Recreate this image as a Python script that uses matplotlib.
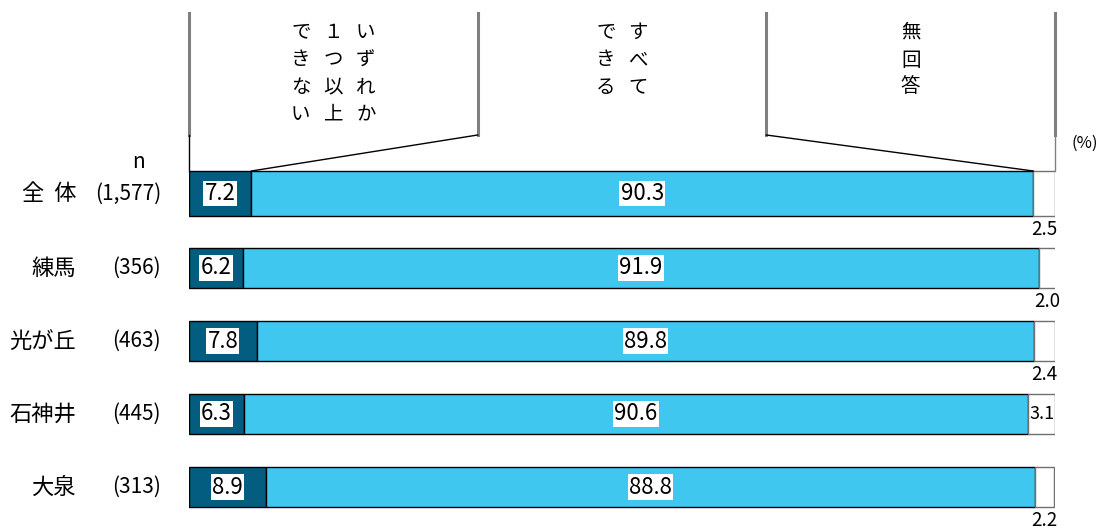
import matplotlib
matplotlib.use('Agg')
import matplotlib.pyplot as plt

plt.rcParams['font.family'] = ['Noto Sans CJK JP', 'DejaVu Sans']

areas = ['全  体', '練馬', '光が丘', '石神井', '大泉']
counts = ['(1,577)', '(356)', '(463)', '(445)', '(313)']
cannot = [7.2, 6.2, 7.8, 6.3, 8.9]      # いずれか1つ以上できない
can_all = [90.3, 91.9, 89.8, 90.6, 88.8]  # すべてできる
no_ans = [2.5, 2.0, 2.4, 3.1, 2.2]      # 無回答
headers = [['いずれか', '１つ以上', 'できない'], ['すべて', 'できる'], ['無回答']]

dark = '#035d80'
light = '#3fc7f0'

W, H = 1107, 531
fig = plt.figure(figsize=(W / 100, H / 100), dpi=100)
x0, x1 = 189, 1055
ax = fig.add_axes([x0 / W, 0, (x1 - x0) / W, 1])
ax.set_xlim(0, 100)
ax.set_ylim(H, 0)
ax.axis('off')

def px(x):
    # figure pixel -> percent axis
    return (x - x0) / (x1 - x0) * 100

# row centres / heights in pixels (layout only)
ys = [193.5, 268, 341, 414, 487]
hs = [45, 40, 40, 40, 40]

for i in range(len(areas)):
    y, h = ys[i], hs[i]
    ax.barh(y, cannot[i], height=h, color=dark, edgecolor='black', lw=1)
    ax.barh(y, can_all[i], left=cannot[i], height=h, color=light, edgecolor='black', lw=1)
    ax.barh(y, no_ans[i], left=cannot[i] + can_all[i], height=h, color='white',
            edgecolor='#707070', lw=1)
    box = dict(facecolor='white', edgecolor='none', pad=1.0)
    ax.text(cannot[i] / 2, y, f'{cannot[i]:.1f}', ha='center', va='center',
            fontsize=16, bbox=box)
    ax.text(cannot[i] + can_all[i] / 2, y, f'{can_all[i]:.1f}', ha='center',
            va='center', fontsize=16, bbox=box)
    xc = cannot[i] + can_all[i] + no_ans[i] / 2
    if no_ans[i] >= 3:
        ax.text(xc, y, f'{no_ans[i]:.1f}', ha='center', va='center', fontsize=13)
    else:
        ax.text(xc, y + h / 2 + 3, f'{no_ans[i]:.1f}', ha='center', va='top', fontsize=13.5)
    ax.text(px(76), y, areas[i], ha='right', va='center', fontsize=16, clip_on=False)
    ax.text(px(161), y, counts[i], ha='right', va='center', fontsize=15, clip_on=False)

ax.text(px(138), 162, 'n', ha='center', va='center', fontsize=15, clip_on=False)
ax.text(px(1085), 143, '(%)', ha='center', va='center', fontsize=12, clip_on=False)

# header frame
gray = '#808080'
top, mid = 13, 135
bar_top = ys[0] - hs[0] / 2
for xv in [0, 100 / 3, 200 / 3, 100]:
    ax.plot([xv, xv], [top, mid], color=gray, lw=2.2, clip_on=False)
ax.plot([0, 0], [mid, bar_top], color='black', lw=1, clip_on=False)
ax.plot([100, 100], [mid, bar_top], color=gray, lw=1, clip_on=False)
ax.plot([100 / 3, cannot[0]], [mid, bar_top], color='black', lw=1, clip_on=False)
ax.plot([200 / 3, cannot[0] + can_all[0]], [mid, bar_top], color='black', lw=1, clip_on=False)

# vertical header text, columns right to left
gap = 32.5 / (x1 - x0) * 100
rows_y = [32, 60, 87, 114]
for k, cols in enumerate(headers):
    centre = (k + 0.5) * 100 / 3
    n = len(cols)
    for j, word in enumerate(cols):
        xc = centre + ((n - 1) / 2 - j) * gap
        for r, ch in enumerate(word):
            ax.text(xc, rows_y[r], ch, ha='center', va='center', fontsize=14)

fig.savefig('out.png', dpi=100)
